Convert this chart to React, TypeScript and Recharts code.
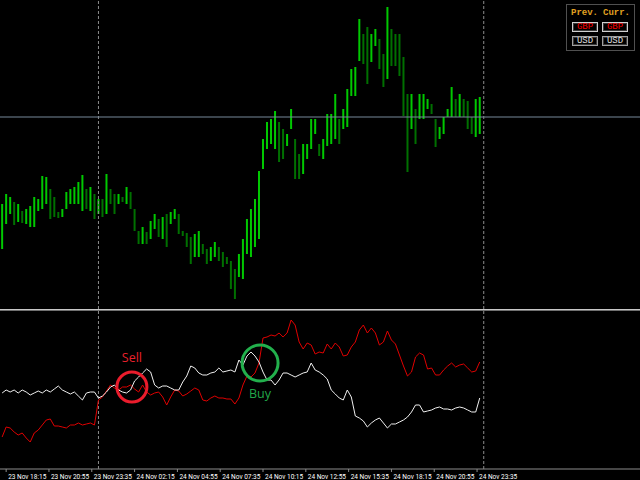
import { ComposedChart, Bar, Cell, Line, XAxis, YAxis, ReferenceLine, ReferenceDot } from 'recharts'

// 15 minute bars, time in minutes from 24 Nov 00:00
const START = -360
const STEP = 15

const highs = [
  105, 115, 112, 107, 105, 98, 100, 103, 112, 110,
  133, 132, 120, 112, 97, 100, 117, 120, 122, 127,
  134, 120, 122, 115, 110, 110, 135, 120, 115, 115,
  112, 122, 117, 100, 78, 82, 77, 88, 95, 90,
  92, 95, 97, 100, 95, 78, 76, 72, 75, 78,
  65, 60, 62, 67, 62, 57, 52, 48, 40, 55,
  70, 90, 100, 110, 138, 170, 187, 190, 198, 187,
  180, 175, 200, 170, 155, 165, 165, 190, 190, 165,
  170, 195, 195, 215, 190, 200, 220, 240, 242, 290,
  275, 282, 275, 280, 270, 255, 302, 280, 275, 275,
  252, 215, 215, 200, 215, 215, 210, 205, 190, 182,
  192, 200, 222, 210, 215, 210, 208, 192, 210, 212,
]
const lows = [
  60, 85, 95, 84, 87, 86, 85, 82, 82, 98,
  100, 105, 90, 92, 91, 92, 100, 105, 105, 105,
  98, 100, 98, 90, 95, 92, 95, 105, 95, 105,
  107, 105, 100, 78, 65, 65, 65, 70, 80, 72,
  70, 62, 85, 90, 75, 73, 62, 45, 52, 52,
  55, 45, 48, 52, 48, 42, 45, 20, 10, 32,
  30, 55, 52, 62, 70, 140, 160, 165, 160, 147,
  150, 163, 180, 130, 130, 135, 150, 160, 175, 153,
  150, 163, 165, 170, 165, 180, 182, 213, 213, 248,
  245, 225, 247, 263, 240, 222, 230, 243, 243, 233,
  193, 137, 180, 165, 190, 190, 200, 195, 162, 170,
  175, 192, 192, 192, 192, 192, 180, 175, 172, 175,
]

// strength lines of the lower window
const gbp = [
  32, 42, 41, 37, 34, 36, 31, 27, 36, 39,
  44, 49, 50, 43, 43, 42, 41, 44, 44, 46,
  44, 45, 46, 44, 69, 72, 78, 84, 81, 79,
  82, 82, 84, 80, 77, 84, 77, 74, 76, 77,
  72, 64, 72, 79, 78, 73, 75, 78, 81, 79,
  69, 68, 71, 73, 71, 71, 70, 70, 65, 71,
  84, 93, 92, 96, 106, 131, 132, 134, 133, 136,
  132, 136, 149, 144, 127, 120, 126, 124, 115, 117,
  116, 125, 120, 126, 122, 113, 114, 122, 127, 139,
  144, 136, 141, 136, 124, 127, 138, 129, 125, 114,
  103, 93, 97, 112, 116, 114, 100, 101, 94, 94,
  99, 103, 106, 102, 104, 105, 101, 97, 98, 107,
]
const usd = [
  76, 79, 77, 79, 76, 79, 77, 74, 76, 78,
  76, 79, 77, 80, 83, 79, 77, 75, 77, 73,
  69, 76, 77, 77, 71, 73, 77, 82, 84, 79,
  77, 76, 79, 88, 92, 96, 100, 97, 84, 81,
  83, 83, 81, 79, 79, 87, 93, 103, 101, 96,
  94, 94, 96, 97, 101, 97, 98, 99, 97, 109,
  104, 113, 117, 113, 107, 97, 89, 89, 84, 89,
  96, 96, 94, 92, 94, 96, 97, 106, 99, 97,
  94, 90, 79, 75, 71, 69, 79, 72, 53, 51,
  48, 42, 46, 49, 51, 46, 41, 45, 45, 47,
  49, 52, 57, 64, 64, 57, 58, 59, 61, 62,
  60, 60, 59, 61, 62, 61, 59, 57, 57, 71,
]

const tickTimes = [-345, -185, -25, 135, 295, 455, 615, 775, 935, 1095, 1255, 1415]
const tickLabels = [
  '23 Nov 18:15', '23 Nov 20:55', '23 Nov 23:35', '24 Nov 02:15',
  '24 Nov 04:55', '24 Nov 07:35', '24 Nov 10:15', '24 Nov 12:55',
  '24 Nov 15:35', '24 Nov 18:15', '24 Nov 20:55', '24 Nov 23:35',
]
const daySeparators = [0, 1440]
const bidPrice = 192

const sellSignal = { t: 125, v: 82 }
const buySignal = { t: 604, v: 106 }

const X_DOMAIN: [number, number] = [-368, 2024]

const bars = highs.map((h, i) => {
  const mid = (h + lows[i]) / 2
  const prevMid = i > 0 ? (highs[i - 1] + lows[i - 1]) / 2 : mid
  return { t: START + STEP * i, hl: [lows[i], h], up: mid >= prevMid }
})

const lines = gbp.map((g, i) => ({ t: START + STEP * i, gbp: g, usd: usd[i] }))

function TimeTick(props: any) {
  const { x, y, payload } = props
  const label = tickLabels[tickTimes.indexOf(payload.value)]
  return (
    <text x={x + 2} y={y + 6.5} fill="#ffffff" fontSize={6.5} fontFamily="Roboto, sans-serif">
      {label}
    </text>
  )
}

const btn = (color: string, border: string): React.CSSProperties => ({
  position: 'absolute', width: 24, height: 8, border: `1px solid ${border}`,
  boxShadow: 'inset 0 0 0 1px #3a3a3a', color, fontSize: 9, lineHeight: '8px',
  textAlign: 'center', fontFamily: '"Liberation Mono", monospace',
})

export default function App() {
  return (
    <div style={{ position: 'relative', width: 640, height: 480, background: '#000', overflow: 'hidden' }}>
      <style>{'body{margin:0;background:#000}'}</style>

      <div style={{ position: 'absolute', left: 0, top: 0 }}>
        <ComposedChart width={640} height={309} data={bars} margin={{ top: 0, right: 0, bottom: 0, left: 0 }}>
          <XAxis type="number" dataKey="t" domain={X_DOMAIN} hide />
          <YAxis type="number" domain={[0, 309]} hide />
          {daySeparators.map((d) => (
            <ReferenceLine key={d} x={d} stroke="#8c8c8c" strokeDasharray="3 2" />
          ))}
          <ReferenceLine y={bidPrice} stroke="#778899" />
          <Bar dataKey="hl" barSize={2} isAnimationActive={false}>
            {bars.map((b, i) => (
              <Cell key={i} fill={b.up ? '#00c800' : '#007000'} />
            ))}
          </Bar>
        </ComposedChart>
      </div>

      <div style={{ position: 'absolute', left: 0, top: 309, width: 640, height: 1, background: '#c8c8c8' }} />
      <div style={{ position: 'absolute', left: 0, top: 310, width: 640, height: 1, background: '#707070' }} />

      <div style={{ position: 'absolute', left: 0, top: 311 }}>
        <ComposedChart width={640} height={169} data={lines} margin={{ top: 0, right: 0, bottom: 0, left: 0 }}>
          <XAxis
            type="number"
            dataKey="t"
            domain={X_DOMAIN}
            ticks={tickTimes}
            interval={0}
            height={11}
            tickSize={3}
            tickMargin={0}
            stroke="#8c8c8c"
            tick={<TimeTick />}
          />
          <YAxis type="number" domain={[0, 158]} hide />
          {daySeparators.map((d) => (
            <ReferenceLine key={d} x={d} stroke="#8c8c8c" strokeDasharray="3 2" />
          ))}
          <Line dataKey="gbp" stroke="#e00000" strokeWidth={1} dot={false} isAnimationActive={false} />
          <Line dataKey="usd" stroke="#f0f0f0" strokeWidth={1} dot={false} isAnimationActive={false} />
          <ReferenceDot
            x={sellSignal.t}
            y={sellSignal.v}
            r={15}
            fill="none"
            stroke="#ea1c2c"
            strokeWidth={3}
            label={{ value: 'Sell', position: 'top', offset: 10, fill: '#e8202c', fontSize: 12.5, fontFamily: '"Open Sans", sans-serif' }}
          />
          <ReferenceDot
            x={buySignal.t}
            y={buySignal.v}
            r={18}
            fill="none"
            stroke="#22b04c"
            strokeWidth={3}
            label={{ value: 'Buy', position: 'bottom', offset: 8, fill: '#22a84a', fontSize: 12.5, fontFamily: '"Open Sans", sans-serif' }}
          />
        </ComposedChart>
      </div>

      <div style={{ position: 'absolute', left: 566, top: 4, width: 67, height: 45, border: '1px solid #505050', background: '#000' }}>
        <div style={{ position: 'absolute', left: 4, top: 3, color: '#e0a020', fontSize: 9, fontWeight: 'bold', fontFamily: '"Liberation Mono", monospace' }}>Prev.</div>
        <div style={{ position: 'absolute', left: 36, top: 3, color: '#e0a020', fontSize: 9, fontWeight: 'bold', fontFamily: '"Liberation Mono", monospace' }}>Curr.</div>
        <div style={{ ...btn('#ff0000', '#d0d0d0'), left: 5, top: 17 }}>GBP</div>
        <div style={{ ...btn('#ff0000', '#d0d0d0'), left: 35, top: 17 }}>GBP</div>
        <div style={{ ...btn('#e0e0e0', '#a0a0a0'), left: 5, top: 31 }}>USD</div>
        <div style={{ ...btn('#e0e0e0', '#a0a0a0'), left: 35, top: 31 }}>USD</div>
      </div>
    </div>
  )
}
